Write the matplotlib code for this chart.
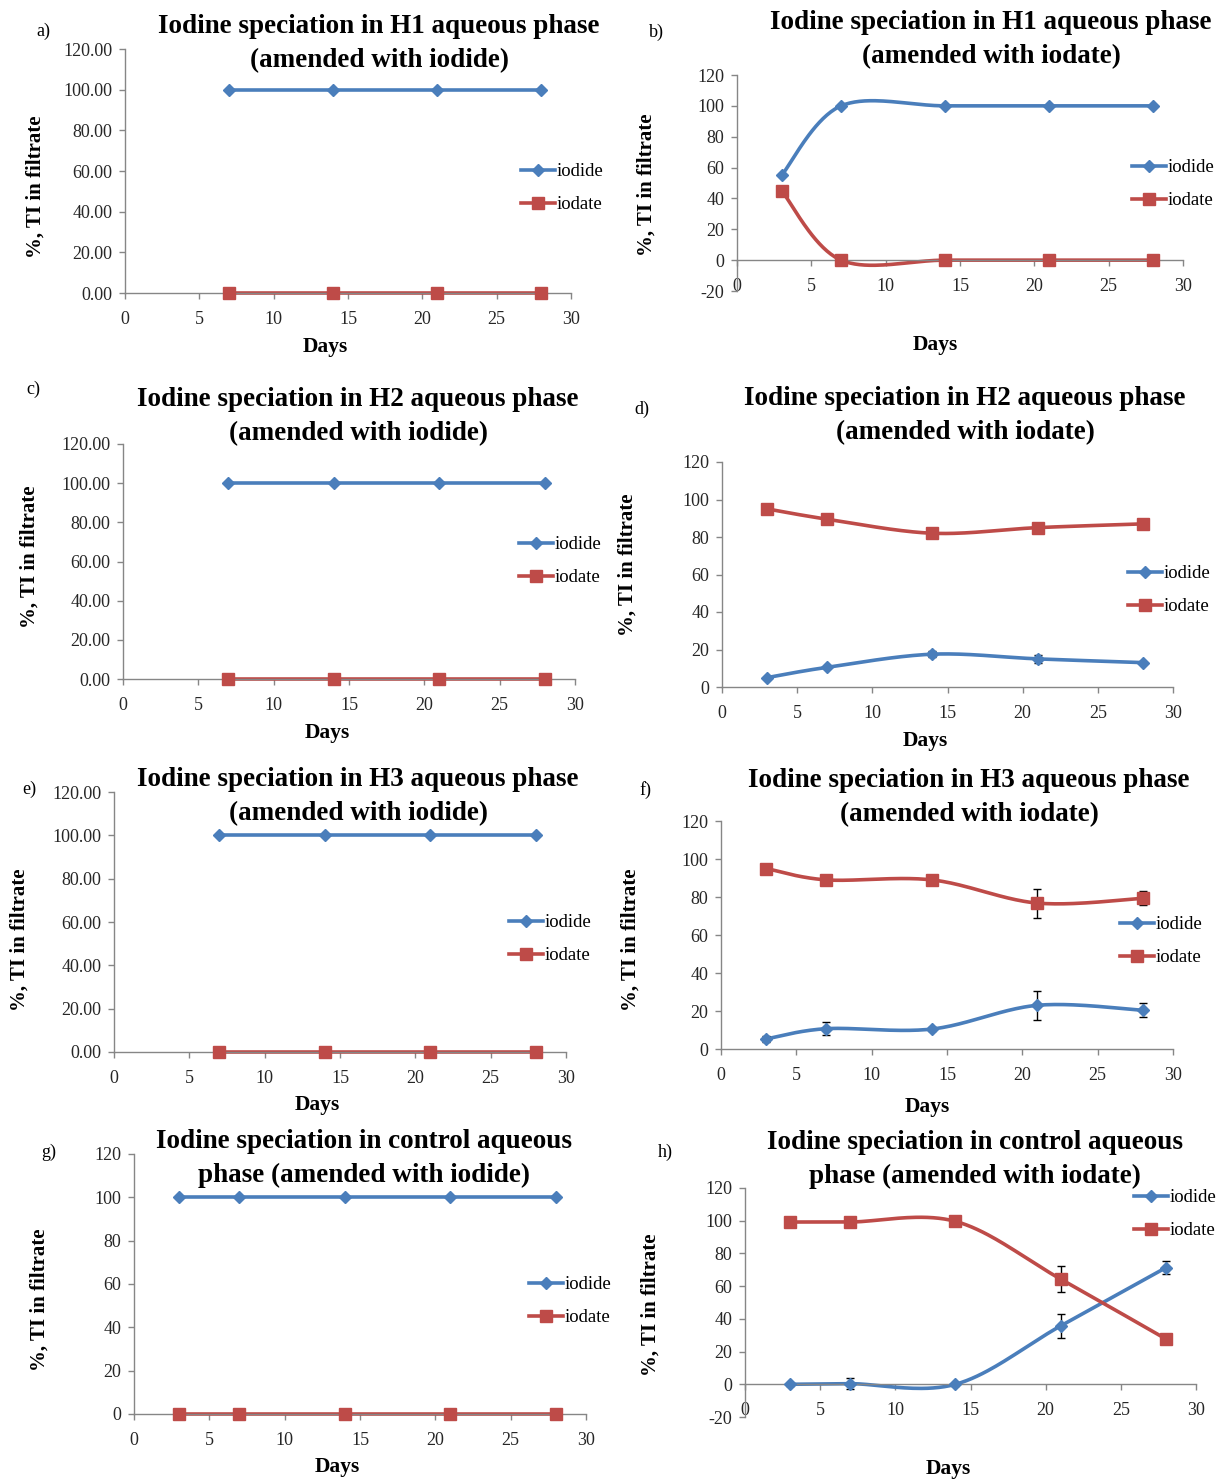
import numpy as np
import matplotlib
matplotlib.use("Agg")
import matplotlib.pyplot as plt
from matplotlib.lines import Line2D

plt.rcParams['font.family'] = ['Liberation Serif', 'DejaVu Serif']

W, H = 1222, 1479

# ---------------- data ----------------
days_4 = [7, 14, 21, 28]
days_5 = [3, 7, 14, 21, 28]

a_iodide = [100, 100, 100, 100]
a_iodate = [0, 0, 0, 0]

b_iodide = [55, 100, 100, 100, 100]
b_iodate = [45, 0, 0, 0, 0]

c_iodide = [100, 100, 100, 100]
c_iodate = [0, 0, 0, 0]

d_iodide = [5, 10.5, 17.5, 15, 13]
d_iodide_err = [0.5, 0.5, 1.5, 2, 0.5]
d_iodate = [95, 89.5, 82, 85, 87]
d_iodate_err = [0.5, 0.5, 0.5, 0.5, 0.5]

e_iodide = [100, 100, 100, 100]
e_iodate = [0, 0, 0, 0]

f_iodide = [5.3, 10.7, 10.5, 23, 20.4]
f_iodide_err = [1.5, 3.4, 1, 7.5, 3.7]
f_iodate = [95, 89, 89, 76.8, 79.3]
f_iodate_err = [1, 2, 1, 7.6, 3.7]

g_iodide = [100, 100, 100, 100, 100]
g_iodate = [0, 0, 0, 0, 0]

h_iodide = [0, 0.4, 0, 35.7, 71.3]
h_iodide_err = [1, 3.5, 1, 7.4, 3.9]
h_iodate = [99.2, 99.2, 99.6, 64.3, 27.7]
h_iodate_err = [0.5, 0.5, 0.5, 7.9, 0.5]

series_names = ["iodide", "iodate"]
title_a = "Iodine speciation in H1 aqueous phase\n(amended with iodide)"
title_b = "Iodine speciation in H1 aqueous phase\n(amended with iodate)"
title_c = "Iodine speciation in H2 aqueous phase\n(amended with iodide)"
title_d = "Iodine speciation in H2 aqueous phase\n(amended with iodate)"
title_e = "Iodine speciation in H3 aqueous phase\n(amended with iodide)"
title_f = "Iodine speciation in H3 aqueous phase\n(amended with iodate)"
title_g = "Iodine speciation in control aqueous\nphase (amended with iodide)"
title_h = "Iodine speciation in control aqueous\nphase (amended with iodate)"

BLUE = "#4A7EBB"
RED = "#BE4B48"
AXC = "#868686"
TXT = "#262626"

fig = plt.figure(figsize=(W / 100, H / 100), dpi=100)


def smooth(x, y, n=40):
    pts = np.column_stack([np.asarray(x, float), np.asarray(y, float)])
    P = np.vstack([pts[0], pts, pts[-1]])
    out = []
    t = np.linspace(0, 1, n)[:, None]
    for i in range(1, len(P) - 2):
        p0, p1, p2, p3 = P[i - 1], P[i], P[i + 1], P[i + 2]
        c1 = p1 + (p2 - p0) / 6
        c2 = p2 - (p3 - p1) / 6
        b = (1 - t) ** 3 * p1 + 3 * (1 - t) ** 2 * t * c1 + 3 * (1 - t) * t ** 2 * c2 + t ** 3 * p2
        out.append(b if i == 1 else b[1:])
    c = np.vstack(out)
    return c[:, 0], c[:, 1]


def panel(left, right, top, bottom, x, iodide, iodate, ymin, fmt, smooth_on,
          title, title_xy, label, label_xy, ylab_xy, xlab_xy, leg_xy,
          iodide_err=None, iodate_err=None):
    ax = fig.add_axes([left / W, 1 - bottom / H, (right - left) / W, (bottom - top) / H])
    for yv, col, mk, ms, err in [(iodide, BLUE, 'D', 6.5, iodide_err),
                                 (iodate, RED, 's', 9, iodate_err)]:
        if smooth_on:
            sx, sy = smooth(x, yv)
        else:
            sx, sy = x, yv
        ax.plot(sx, sy, color=col, lw=2.6, solid_capstyle='round', zorder=2, clip_on=False)
        if err is not None:
            ax.errorbar(x, yv, yerr=err, fmt='none', ecolor='black', elinewidth=1,
                        capsize=3, capthick=1, zorder=3)
        ax.plot(x, yv, linestyle='none', marker=mk, ms=ms, color=col,
                markeredgecolor=col, zorder=4, clip_on=False)
    ax.set_xlim(0, 30)
    ax.set_ylim(ymin, 120)
    ax.set_xticks(range(0, 31, 5))
    ax.set_yticks(range(ymin, 121, 20))
    ax.set_yticklabels([fmt.format(v) for v in range(ymin, 121, 20)])
    for s in ['top', 'right']:
        ax.spines[s].set_visible(False)
    for s in ['left', 'bottom']:
        ax.spines[s].set_color(AXC)
        ax.spines[s].set_linewidth(1)
    if ymin < 0:
        ax.spines['bottom'].set_position(('data', 0))
    ax.tick_params(axis='both', colors=AXC, labelcolor=TXT, labelsize=13,
                   length=4, width=1, direction='out')
    ax.tick_params(axis='x', pad=9)
    ax.tick_params(axis='y', pad=5)
    ax.patch.set_alpha(0)

    fig.text(title_xy[0] / W, 1 - title_xy[1] / H, title, ha='center', va='center',
             fontsize=19.5, fontweight='bold', linespacing=1.5, color='black')
    fig.text(label_xy[0] / W, 1 - label_xy[1] / H, label, ha='center', va='center',
             fontsize=13, color='black')
    fig.text(ylab_xy[0] / W, 1 - ylab_xy[1] / H, "%, TI in filtrate", rotation=90,
             ha='center', va='center', fontsize=15, fontweight='bold', color='black')
    fig.text(xlab_xy[0] / W, 1 - xlab_xy[1] / H, "Days", ha='center', va='center',
             fontsize=15.5, fontweight='bold', color='black')

    handles = [Line2D([], [], color=BLUE, lw=2.6, marker='D', ms=6.5),
               Line2D([], [], color=RED, lw=2.6, marker='s', ms=9)]
    ax.legend(handles, series_names, loc='upper left',
              bbox_to_anchor=(leg_xy[0] / W, 1 - leg_xy[1] / H),
              bbox_transform=fig.transFigure, frameon=False, fontsize=13.5,
              handlelength=1.8, handletextpad=0.1, labelspacing=0.85,
              borderpad=0, borderaxespad=0)
    return ax


# a
panel(125, 571, 49, 293, days_4, a_iodide, a_iodate, 0, "{:.2f}", False,
      title_a, (379, 43.5), "a)", (43, 31), (36, 187), (325, 347), (521, 163))
# b
panel(737, 1183, 75, 291, days_5, b_iodide, b_iodate, -20, "{:d}", True,
      title_b, (991, 39.5), "b)", (656, 32), (647, 185), (935, 345), (1132, 159))
# c
panel(123, 575, 444, 679, days_4, c_iodide, c_iodate, 0, "{:.2f}", False,
      title_c, (358, 416.5), "c)", (33, 389), (30, 557), (327, 733), (519, 536))
# d
panel(722, 1173, 462, 687, days_5, d_iodide, d_iodate, 0, "{:d}", True,
      title_d, (965, 415.5), "d)", (642, 409), (628, 565), (925, 741), (1128, 565),
      iodide_err=d_iodide_err, iodate_err=d_iodate_err)
# e
panel(114, 566, 792, 1052, days_4, e_iodide, e_iodate, 0, "{:.2f}", False,
      title_e, (358, 796.5), "e)", (29, 789), (20, 940), (317, 1105), (509, 914))
# f
panel(721, 1173, 821, 1049, days_5, f_iodide, f_iodate, 0, "{:d}", True,
      title_f, (969, 797.5), "f)", (645, 790), (631, 940), (927, 1107), (1120, 916),
      iodide_err=f_iodide_err, iodate_err=f_iodate_err)
# g
panel(134, 586, 1154, 1414, days_5, g_iodide, g_iodate, 0, "{:d}", False,
      title_g, (364, 1158.5), "g)", (49, 1152), (40, 1300), (337, 1467), (529, 1276))
# h
panel(745, 1196, 1188, 1417, days_5, h_iodide, h_iodate, -20, "{:d}", True,
      title_h, (975, 1159.5), "h)", (665, 1152), (651, 1305), (948, 1469), (1134, 1189),
      iodide_err=h_iodide_err, iodate_err=h_iodate_err)

fig.savefig("out.png", dpi=100, facecolor='white')
